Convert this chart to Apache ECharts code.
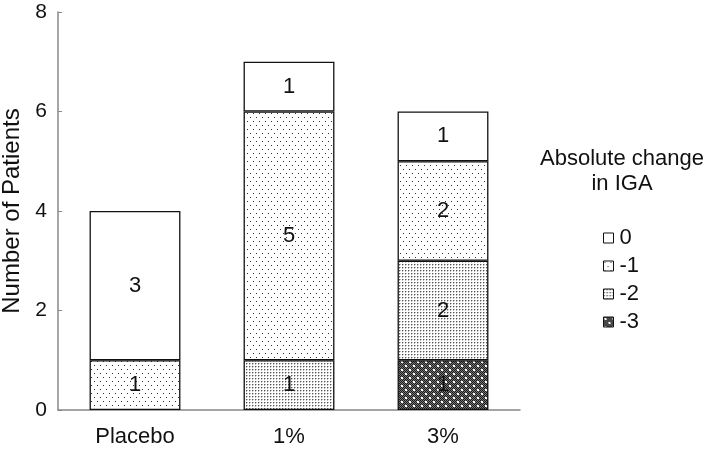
<!DOCTYPE html>
<html>
<head>
<meta charset="utf-8">
<script src="https://cdn.jsdelivr.net/npm/echarts@6/dist/echarts.min.js"></script>
<style>
html,body{margin:0;padding:0;background:#fff;}
#main{width:709px;height:452px;}
</style>
</head>
<body>
<div id="main"></div>
<script>
// categories and counts per change level
var groups = ['Placebo', '1%', '3%'];
var levelNames = ['0', '-1', '-2', '-3'];
var change0 = [3, 1, 1];
var changeM1 = [1, 5, 2];
var changeM2 = [0, 1, 2];
var changeM3 = [0, 0, 1];
var yTicks = [0, 2, 4, 6, 8];

var FONT = 'Liberation Sans, Arial';

//填充图案
function makePattern(w, h, draw){
	var c = document.createElement('canvas');
	c.width = w; c.height = h;
	var ctx = c.getContext('2d');
	ctx.fillStyle = '#fff';
	ctx.fillRect(0, 0, w, h);
	draw(ctx);
	return {image: c, repeat: 'repeat'};
}
var patWhite = '#ffffff';
var patSparse = makePattern(6, 8, function(ctx){
	ctx.fillStyle = '#333';
	ctx.fillRect(1, 1, 1, 1);
	ctx.fillRect(4, 5, 1, 1);
});
var patDense = makePattern(3, 3, function(ctx){
	ctx.fillStyle = '#555';
	ctx.fillRect(0, 0, 1, 1);
	ctx.fillStyle = '#bbb';
	ctx.fillRect(1, 0, 1, 1);
	ctx.fillRect(0, 1, 1, 1);
});
var patDark = makePattern(8, 8, function(ctx){
	for(var x = 0; x < 8; x++){
		for(var y = 0; y < 8; y++){
			ctx.fillStyle = ((x + y) % 2 == 0) ? '#1a1a1a' : '#777';
			ctx.fillRect(x, y, 1, 1);
		}
	}
	ctx.fillStyle = '#fff';
	ctx.fillRect(1, 1, 2, 2);
	ctx.fillRect(5, 5, 2, 2);
});

function mkSeries(name, data, fill){
	return {
		name: name,
		type: 'bar',
		stack: 'total',
		barWidth: '59%',
		data: data.map(function(v){ return v === 0 ? null : v; }),
		itemStyle: {color: fill, borderColor: '#111', borderWidth: 1.3},
		label: {
			show: true,
			position: 'inside',
			color: '#111',
			fontSize: 22,
			fontFamily: FONT,
			formatter: function(p){ return p.value ? String(p.value) : ''; }
		},
		emphasis: {disabled: true}
	};
}

var chart = echarts.init(document.getElementById('main'));
var option = {
	animation: false,
	backgroundColor: '#fff',
	textStyle: {fontFamily: FONT},
	title: {
		text: 'Absolute change\nin IGA',
		left: 617,
		top: 141,
		textAlign: 'center',
		textStyle: {fontSize: 22, fontWeight: 'normal', color: '#111', lineHeight: 25, fontFamily: FONT}
	},
	legend: {
		orient: 'vertical',
		left: 598,
		top: 222,
		itemWidth: 10,
		itemHeight: 10,
		itemGap: 6,
		icon: 'rect',
		data: levelNames,
		textStyle: {fontSize: 22, color: '#111', padding: [0, 0, 0, 1]},
		itemStyle: {borderColor: '#111', borderWidth: 1}
	},
	grid: {left: 58, top: 12, right: 189, bottom: 42, outerBoundsMode: 'none', containLabel: false},
	xAxis: {
		type: 'category',
		data: groups,
		axisLine: {lineStyle: {color: '#888', width: 1.5}},
		axisTick: {show: false},
		axisLabel: {fontSize: 22, color: '#111', margin: 16}
	},
	yAxis: {
		type: 'value',
		min: yTicks[0],
		max: yTicks[yTicks.length - 1],
		interval: 2,
		name: 'Number of Patients',
		nameLocation: 'middle',
		nameGap: 34,
		nameTextStyle: {fontSize: 24, color: '#111'},
		axisLine: {show: true, lineStyle: {color: '#888', width: 1.5}},
		axisTick: {show: true, inside: true, length: 4, lineStyle: {color: '#888'}},
		axisLabel: {fontSize: 21, color: '#111', margin: 11},
		splitLine: {show: false}
	},
	series: [
		mkSeries('-3', changeM3, patDark),
		mkSeries('-2', changeM2, patDense),
		mkSeries('-1', changeM1, patSparse),
		mkSeries('0', change0, patWhite)
	]
};
chart.setOption(option);
</script>
</body>
</html>
